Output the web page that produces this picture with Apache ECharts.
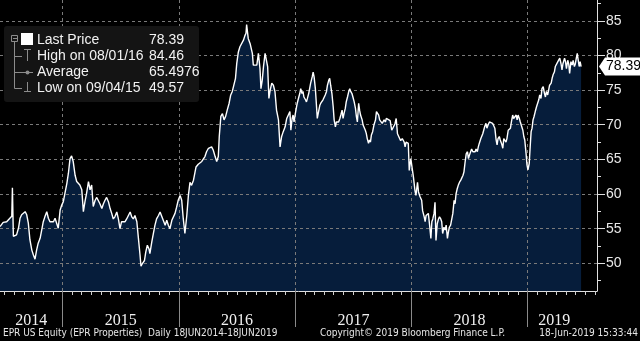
<!DOCTYPE html>
<html>
<head>
<meta charset="utf-8">
<script src="https://cdn.jsdelivr.net/npm/echarts@6/dist/echarts.min.js"></script>
<style>
  html, body { margin: 0; padding: 0; background: #000; }
  #chart { width: 640px; height: 341px; }
</style>
</head>
<body>
<div id="chart"></div>
<script>
// EPR Properties closing prices, June 2014 - June 2019
const dates = [
  '2014-06-18','2014-06-28','2014-07-09','2014-07-14','2014-07-19','2014-07-25','2014-07-27','2014-07-30',
  '2014-08-04','2014-08-09','2014-08-15','2014-08-20','2014-08-25','2014-08-30','2014-09-05','2014-09-10',
  '2014-09-15','2014-09-20','2014-09-26','2014-10-01','2014-10-06','2014-10-11','2014-10-16','2014-10-22',
  '2014-10-27','2014-11-01','2014-11-06','2014-11-12','2014-11-17','2014-11-22','2014-11-27','2014-12-03',
  '2014-12-08','2014-12-13','2014-12-18','2014-12-24','2014-12-29',
  '2015-01-03','2015-01-08','2015-01-14','2015-01-19','2015-01-24','2015-01-29','2015-02-03','2015-02-09',
  '2015-02-14','2015-02-19','2015-02-24','2015-03-02','2015-03-07','2015-03-12','2015-03-17','2015-03-23',
  '2015-03-28','2015-04-02','2015-04-07','2015-04-13','2015-04-18','2015-04-23','2015-04-28','2015-05-04',
  '2015-05-09','2015-05-14','2015-05-19','2015-05-25','2015-05-30','2015-06-04','2015-06-09','2015-06-14',
  '2015-06-20','2015-06-25','2015-06-30','2015-07-05','2015-07-11','2015-07-16','2015-07-21','2015-07-26',
  '2015-08-01','2015-08-06','2015-08-11','2015-08-16','2015-08-22','2015-08-27','2015-09-01','2015-09-04',
  '2015-09-09','2015-09-15','2015-09-19','2015-09-24','2015-09-29','2015-10-02','2015-10-08','2015-10-13',
  '2015-10-18','2015-10-23','2015-10-29','2015-11-03','2015-11-08','2015-11-13','2015-11-19','2015-11-24',
  '2015-11-29','2015-12-04','2015-12-10','2015-12-15','2015-12-20','2015-12-25','2015-12-30',
  '2016-01-05','2016-01-10','2016-01-15','2016-01-20','2016-01-26','2016-01-31','2016-02-05','2016-02-10',
  '2016-02-16','2016-02-21','2016-02-24','2016-03-02','2016-03-08','2016-03-13','2016-03-18','2016-03-23',
  '2016-03-28','2016-04-03','2016-04-08','2016-04-13','2016-04-18','2016-04-24','2016-04-29','2016-05-04',
  '2016-05-07','2016-05-12','2016-05-17','2016-05-22','2016-05-27','2016-06-01','2016-06-07','2016-06-12',
  '2016-06-17','2016-06-22','2016-06-27','2016-07-01','2016-07-06','2016-07-11','2016-07-17','2016-07-22',
  '2016-07-27','2016-07-30','2016-08-01','2016-08-06','2016-08-12','2016-08-15','2016-08-19','2016-08-22',
  '2016-08-27','2016-09-02','2016-09-07','2016-09-12','2016-09-15','2016-09-19','2016-09-23','2016-09-28',
  '2016-10-03','2016-10-06','2016-10-10','2016-10-14','2016-10-19','2016-10-24','2016-10-29','2016-11-03',
  '2016-11-09','2016-11-14','2016-11-19','2016-11-24','2016-11-30','2016-12-05','2016-12-10','2016-12-15',
  '2016-12-18','2016-12-22','2016-12-25','2016-12-28',
  '2017-01-01','2017-01-04','2017-01-07','2017-01-12','2017-01-15','2017-01-18','2017-01-22','2017-01-25',
  '2017-01-28','2017-02-02','2017-02-05','2017-02-08','2017-02-12','2017-02-15','2017-02-18','2017-02-23',
  '2017-02-26','2017-03-01','2017-03-05','2017-03-08','2017-03-11','2017-03-16','2017-03-19','2017-03-22',
  '2017-03-26','2017-03-29','2017-04-01','2017-04-05','2017-04-09','2017-04-12','2017-04-16','2017-04-19',
  '2017-04-22','2017-04-26','2017-04-30','2017-05-03','2017-05-07','2017-05-10','2017-05-13','2017-05-17',
  '2017-05-21','2017-05-24','2017-05-28','2017-05-31','2017-06-03','2017-06-07','2017-06-10','2017-06-14',
  '2017-06-18','2017-06-21','2017-06-24','2017-06-28','2017-07-01','2017-07-05','2017-07-09','2017-07-12',
  '2017-07-15','2017-07-19','2017-07-22','2017-07-25','2017-07-30','2017-08-02','2017-08-05','2017-08-09',
  '2017-08-12','2017-08-15','2017-08-19','2017-08-22','2017-08-25','2017-08-28','2017-09-01','2017-09-05',
  '2017-09-10','2017-09-13','2017-09-16','2017-09-20','2017-09-23','2017-09-26','2017-10-01','2017-10-04',
  '2017-10-07','2017-10-11','2017-10-14','2017-10-19','2017-10-26','2017-10-31','2017-11-05','2017-11-10',
  '2017-11-14','2017-11-18','2017-11-23','2017-11-28','2017-12-03','2017-12-09','2017-12-12','2017-12-15',
  '2017-12-19','2017-12-22','2017-12-25','2017-12-30',
  '2018-01-02','2018-01-07','2018-01-12','2018-01-15','2018-01-20','2018-01-23','2018-01-28','2018-02-02',
  '2018-02-05','2018-02-10','2018-02-13','2018-02-16','2018-02-20','2018-02-23','2018-02-27','2018-03-03',
  '2018-03-06','2018-03-09','2018-03-13','2018-03-16','2018-03-19','2018-03-23','2018-03-27','2018-03-30',
  '2018-04-03','2018-04-06','2018-04-09','2018-04-13','2018-04-17','2018-04-20','2018-04-24','2018-04-27',
  '2018-04-30','2018-05-04','2018-05-08','2018-05-11','2018-05-15','2018-05-18','2018-05-21','2018-05-25',
  '2018-05-28','2018-06-01','2018-06-05','2018-06-08','2018-06-12','2018-06-15','2018-06-18','2018-06-22',
  '2018-06-26','2018-06-29','2018-07-02','2018-07-06','2018-07-09','2018-07-13','2018-07-17','2018-07-20',
  '2018-07-23','2018-07-27','2018-07-30','2018-08-02','2018-08-07','2018-08-10','2018-08-13','2018-08-17',
  '2018-08-19','2018-08-23','2018-08-26','2018-08-30','2018-09-03','2018-09-06','2018-09-09','2018-09-13',
  '2018-09-16','2018-09-20','2018-09-24','2018-09-27','2018-09-30','2018-10-04','2018-10-07','2018-10-11',
  '2018-10-15','2018-10-18','2018-10-21','2018-10-25','2018-10-28','2018-11-01','2018-11-05','2018-11-08',
  '2018-11-11','2018-11-15','2018-11-18','2018-11-21','2018-11-26','2018-11-29','2018-12-02','2018-12-06',
  '2018-12-09','2018-12-12','2018-12-17','2018-12-20','2018-12-23','2018-12-27','2018-12-30',
  '2019-01-02','2019-01-06','2019-01-09','2019-01-12','2019-01-15','2019-01-18','2019-01-21','2019-01-25',
  '2019-01-29','2019-02-02','2019-02-05','2019-02-08','2019-02-12','2019-02-15','2019-02-19','2019-02-23',
  '2019-02-26','2019-03-01','2019-03-05','2019-03-08','2019-03-11','2019-03-16','2019-03-19','2019-03-22',
  '2019-03-26','2019-03-29','2019-04-01','2019-04-06','2019-04-09','2019-04-12','2019-04-16','2019-04-19',
  '2019-04-22','2019-04-27','2019-04-30','2019-05-03','2019-05-07','2019-05-10','2019-05-13','2019-05-17',
  '2019-05-21','2019-05-24','2019-05-28','2019-05-31','2019-06-03','2019-06-06','2019-06-08','2019-06-12',
  '2019-06-15','2019-06-18'
];

const prices = [
  55.3,55.9,56.0,56.25,56.5,56.8,60.9,53.9,
  54.0,54.1,55.05,56.5,57.0,57.2,57.45,57.0,
  55.8,53.4,51.9,51.2,50.6,51.9,52.9,53.6,
  54.8,56.0,56.7,57.45,56.5,56.0,56.25,56.0,
  56.5,56.25,55.05,57.7,58.4,
  58.9,60.1,61.5,63.0,65.1,65.5,64.7,62.7,
  61.8,62.0,61.3,60.6,57.45,58.9,60.1,61.8,
  60.6,61.3,58.2,59.1,59.5,59.6,58.6,57.9,
  58.6,59.1,59.5,58.85,57.9,57.2,56.4,56.7,
  57.4,56.4,55.0,56.0,56.2,56.0,56.4,56.2,
  57.4,56.7,56.4,56.9,56.0,53.6,51.2,49.57,
  50.0,50.4,51.6,52.6,52.1,51.4,53.1,54.3,
  55.5,56.4,56.9,57.4,57.6,56.2,55.5,56.2,
  55.5,55.0,56.2,56.0,57.2,58.1,59.1,
  59.8,59.1,56.4,54.3,56.9,59.8,61.7,61.25,
  62.0,62.2,63.9,64.3,64.2,64.7,64.9,65.4,
  66.1,66.6,66.35,66.8,66.35,65.4,64.7,65.4,
  68.3,71.2,71.6,70.7,71.2,72.1,73.1,74.3,
  74.8,75.0,76.7,78.85,80.5,81.25,81.5,82.2,
  82.9,83.2,84.46,82.45,81.7,81.97,80.3,78.6,
  78.4,78.6,80.3,78.1,75.2,76.4,78.4,80.3,
  80.5,78.4,73.8,75.0,76.0,75.7,74.8,72.1,
  70.7,66.8,68.3,69.0,69.7,70.9,71.4,71.9,
  69.2,70.9,71.4,70.4,
  71.6,72.35,73.1,74.0,74.5,75.2,74.5,74.8,
  74.0,73.6,73.3,73.8,74.5,75.2,75.96,76.9,
  77.6,76.9,75.2,73.1,70.9,72.1,72.8,73.1,
  73.3,73.6,73.8,74.3,74.8,75.7,76.4,76.7,
  75.7,74.5,72.6,70.7,69.7,70.4,70.2,70.4,
  70.9,71.4,72.1,70.9,71.6,72.35,73.3,74.0,
  74.8,75.2,74.8,74.5,74.0,73.3,72.35,71.15,
  70.4,73.1,72.1,71.4,70.7,69.95,69.7,69.2,
  68.75,68.0,67.3,67.8,67.5,68.5,69.0,69.95,
  70.7,71.9,72.1,71.4,70.7,70.9,70.2,70.4,
  70.7,70.4,70.9,71.15,70.6,69.2,69.4,70.1,
  70.9,68.7,68.2,67.7,68.0,67.5,66.8,67.5,
  67.3,67.3,63.4,65.1,
  64.1,62.5,60.5,59.8,61.7,60.3,59.6,59.1,
  57.6,56.7,56.0,56.9,56.7,57.2,55.5,53.6,
  56.0,56.4,57.2,58.8,53.3,55.7,56.4,56.7,
  56.4,56.0,54.3,55.2,54.8,55.5,53.6,54.5,
  55.2,55.5,55.7,57.2,59.1,58.6,60.0,60.8,
  61.25,61.7,62.0,62.2,62.7,63.2,64.4,65.8,
  66.1,65.1,65.6,65.8,66.5,66.1,66.3,66.1,
  66.5,66.1,66.8,67.3,68.0,68.2,68.7,68.9,
  69.7,70.2,69.5,70.0,70.4,70.2,70.4,70.2,
  70.0,69.5,67.8,67.1,68.0,68.3,67.8,67.3,
  66.6,68.0,67.8,67.5,68.0,69.2,69.0,69.5,
  70.4,71.4,70.9,71.15,71.4,70.7,71.4,70.9,
  70.4,70.2,69.2,68.3,67.8,65.9,64.2,
  63.5,64.4,66.8,69.0,69.5,70.7,71.15,71.9,
  72.6,72.8,73.6,74.3,73.8,75.2,75.5,74.5,
  74.0,74.8,74.3,75.0,75.7,76.0,76.7,77.2,
  77.6,78.4,78.6,79.1,79.3,79.6,78.8,77.9,
  78.8,79.6,79.1,78.1,79.3,78.8,77.4,79.1,
  78.6,79.3,78.4,78.8,79.6,80.3,79.6,78.4,
  79.1,78.39
];

// Price axis ticks
const priceTicks = [50, 55, 60, 65, 70, 75, 80, 85];
const priceMinorTicks = [47.5, 52.5, 57.5, 62.5, 67.5, 72.5, 77.5, 82.5, 87.5];

// Summary statistic over the full daily history
const averagePrice = 65.4976;

const footerLeft = 'EPR US Equity (EPR Properties)  Daily 18JUN2014-18JUN2019';
const footerMid = 'Copyright\u00a9 2019 Bloomberg Finance L.P.';
const footerRight = '18-Jun-2019 15:33:44';

// ---- layout ----
const Y_MIN = 46, Y_MAX = 88;
const X_END = '2019-08-07';
const GRID = { left: 0, right: 43, top: 0, bottom: 50 };
const FILL = '#061d3b';
const GRIDLINE = '#7a7a7a';

function ts(s) {
  const p = s.split('-').map(Number);
  return Date.UTC(p[0], p[1] - 1, p[2]);
}

const t0 = ts(dates[0]);
const tLast = ts(dates[dates.length - 1]);
const tEnd = ts(X_END);
const seriesData = dates.map((d, i) => [ts(d), prices[i]]);

// calendar ticks: month starts, year starts, and centred year labels
const monthTicks = [];
const yearTicks = [];
const yearLabelPos = [];
{
  const d0 = new Date(t0);
  let y = d0.getUTCFullYear(), m = d0.getUTCMonth() + 1;
  while (true) {
    const t = Date.UTC(y, m, 1);
    if (t > tEnd) break;
    monthTicks.push(t);
    m++;
    if (m > 11) { m = 0; y++; }
  }
  const y0 = new Date(t0).getUTCFullYear();
  const y1 = new Date(tLast).getUTCFullYear();
  for (let yy = y0; yy <= y1; yy++) {
    const a = Math.max(Date.UTC(yy, 0, 1), t0);
    const b = Math.min(Date.UTC(yy + 1, 0, 1), tLast);
    if (yy > y0) yearTicks.push(Date.UTC(yy, 0, 1));
    yearLabelPos.push((a + b) / 2);
  }
}

// statistics for the legend block
let hiIdx = 0, loIdx = 0;
prices.forEach((v, i) => { if (v > prices[hiIdx]) hiIdx = i; if (v < prices[loIdx]) loIdx = i; });
function shortDate(s) { const p = s.split('-'); return p[1] + '/' + p[2] + '/' + p[0].slice(2); }
const lastPrice = prices[prices.length - 1];

const chart = echarts.init(document.getElementById('chart'), null, { renderer: 'canvas' });

const baseX = { type: 'value', min: t0, max: tEnd, gridIndex: 0 };
const baseY = { type: 'value', min: Y_MIN, max: Y_MAX, position: 'right' };

chart.setOption({
  backgroundColor: '#000',
  animation: false,
  grid: GRID,
  xAxis: [
    Object.assign({}, baseX, {
      axisLine: { show: true, lineStyle: { color: '#e0e0e0', width: 1 } },
      axisTick: { show: true, customValues: monthTicks, length: 4, lineStyle: { color: '#d0d0d0' } },
      axisLabel: { show: false },
      splitLine: { show: false }
    }),
    Object.assign({}, baseX, {
      position: 'bottom',
      axisLine: { show: false },
      axisTick: { show: true, customValues: yearTicks, length: 36, lineStyle: { color: '#8a8a8a', width: 1 } },
      axisLabel: {
        show: true, customValues: yearLabelPos, margin: 22,
        color: '#f0f0f0', fontFamily: 'Liberation Sans Narrow', fontSize: 16,
        formatter: v => String(new Date(v).getUTCFullYear())
      },
      splitLine: { show: true, lineStyle: { color: GRIDLINE, type: [3, 3], width: 1 } }
    })
  ],
  yAxis: [
    Object.assign({}, baseY, {
      axisLine: { show: true, lineStyle: { color: '#e0e0e0', width: 1 } },
      axisTick: { show: true, customValues: priceTicks, length: 8, lineStyle: { color: '#e0e0e0', width: 1 } },
      axisLabel: {
        show: true, customValues: priceTicks, margin: 9,
        color: '#e8e8e8', fontFamily: 'Liberation Sans', fontSize: 14
      },
      splitLine: { show: true, lineStyle: { color: GRIDLINE, type: [3, 3], width: 1 } }
    }),
    Object.assign({}, baseY, {
      axisLine: { show: false },
      axisTick: { show: true, customValues: priceMinorTicks, length: 4, lineStyle: { color: '#e0e0e0' } },
      axisLabel: { show: false },
      splitLine: { show: false }
    })
  ],
  series: [
    {
      type: 'line', data: seriesData, showSymbol: false, silent: true, z: -1,
      lineStyle: { opacity: 0, width: 0 },
      areaStyle: { color: FILL, opacity: 1, origin: 'start' }
    },
    {
      type: 'line', data: seriesData, showSymbol: false, z: 3,
      lineStyle: { color: '#ffffff', width: 1.4 }
    }
  ]
});

// ---- overlays: legend block, last-price tag, footer ----
const yLast = chart.convertToPixel({ yAxisIndex: 0 }, lastPrice);
const xAxisRight = 640 - GRID.right;
const gray = '#8c8c8c';
const legendFont = '14px "Liberation Sans", Arial, sans-serif';
const rows = [
  { label: 'Last Price', value: lastPrice.toFixed(2), y: 40 },
  { label: 'High on ' + shortDate(dates[hiIdx]), value: prices[hiIdx].toFixed(2), y: 56 },
  { label: 'Average', value: averagePrice.toFixed(4), y: 72 },
  { label: 'Low on ' + shortDate(dates[loIdx]), value: prices[loIdx].toFixed(2), y: 88 }
];

const elements = [
  { type: 'rect', shape: { x: 4, y: 26, width: 195, height: 76, r: 3 }, style: { fill: '#141414' }, z: 10 },
  // tree connector
  { type: 'rect', shape: { x: 11.5, y: 35.5, width: 6, height: 6 }, style: { fill: 'none', stroke: gray, lineWidth: 1 }, z: 11 },
  { type: 'line', shape: { x1: 13, y1: 38.5, x2: 17, y2: 38.5 }, style: { stroke: gray, lineWidth: 1 }, z: 11 },
  { type: 'line', shape: { x1: 14.5, y1: 42, x2: 14.5, y2: 88.5 }, style: { stroke: gray, lineWidth: 1 }, z: 11 },
  { type: 'line', shape: { x1: 14.5, y1: 56.5, x2: 22, y2: 56.5 }, style: { stroke: gray, lineWidth: 1 }, z: 11 },
  { type: 'line', shape: { x1: 14.5, y1: 72.5, x2: 22, y2: 72.5 }, style: { stroke: gray, lineWidth: 1 }, z: 11 },
  { type: 'line', shape: { x1: 14.5, y1: 88.5, x2: 22, y2: 88.5 }, style: { stroke: gray, lineWidth: 1 }, z: 11 },
  // icons
  { type: 'rect', shape: { x: 21, y: 33, width: 12, height: 12 }, style: { fill: '#ffffff' }, z: 11 },
  { type: 'line', shape: { x1: 24, y1: 49.5, x2: 31, y2: 49.5 }, style: { stroke: gray, lineWidth: 1 }, z: 11 },
  { type: 'line', shape: { x1: 27.5, y1: 49.5, x2: 27.5, y2: 61 }, style: { stroke: gray, lineWidth: 1 }, z: 11 },
  { type: 'line', shape: { x1: 22, y1: 72.5, x2: 33, y2: 72.5 }, style: { stroke: gray, lineWidth: 1 }, z: 11 },
  { type: 'circle', shape: { cx: 27.5, cy: 72.5, r: 2 }, style: { fill: gray }, z: 11 },
  { type: 'line', shape: { x1: 27.5, y1: 82, x2: 27.5, y2: 91.5 }, style: { stroke: gray, lineWidth: 1 }, z: 11 },
  { type: 'line', shape: { x1: 24, y1: 91.5, x2: 31, y2: 91.5 }, style: { stroke: gray, lineWidth: 1 }, z: 11 }
];
rows.forEach(r => {
  elements.push({ type: 'text', x: 37, y: r.y, z: 11,
    style: { text: r.label, fill: '#f2f2f2', font: legendFont, verticalAlign: 'middle' } });
  elements.push({ type: 'text', x: 149, y: r.y, z: 11,
    style: { text: r.value, fill: '#f2f2f2', font: legendFont, verticalAlign: 'middle' } });
});

// last price tag on the price axis
elements.push({
  type: 'polygon', z: 12,
  shape: { points: [[xAxisRight + 2, yLast], [xAxisRight + 8, yLast - 9], [642, yLast - 9], [642, yLast + 9], [xAxisRight + 8, yLast + 9]] },
  style: { fill: '#ffffff' }
});
elements.push({ type: 'text', x: xAxisRight + 9, y: yLast, z: 13,
  style: { text: lastPrice.toFixed(2), fill: '#000', font: '14px "Liberation Sans", Arial, sans-serif', verticalAlign: 'middle' } });

// footer
const footFont = '10px "Liberation Sans Narrow", "DejaVu Sans Condensed", sans-serif';
elements.push({ type: 'text', x: 3, y: 333, z: 11, style: { text: footerLeft, fill: '#e6e6e6', font: footFont, verticalAlign: 'middle' } });
elements.push({ type: 'text', x: 320, y: 333, z: 11, style: { text: footerMid, fill: '#e6e6e6', font: footFont, verticalAlign: 'middle' } });
elements.push({ type: 'text', x: 638, y: 333, z: 11, style: { text: footerRight, fill: '#e6e6e6', font: footFont, verticalAlign: 'middle', align: 'right' } });

chart.setOption({ graphic: { elements: elements } });
</script>
</body>
</html>
